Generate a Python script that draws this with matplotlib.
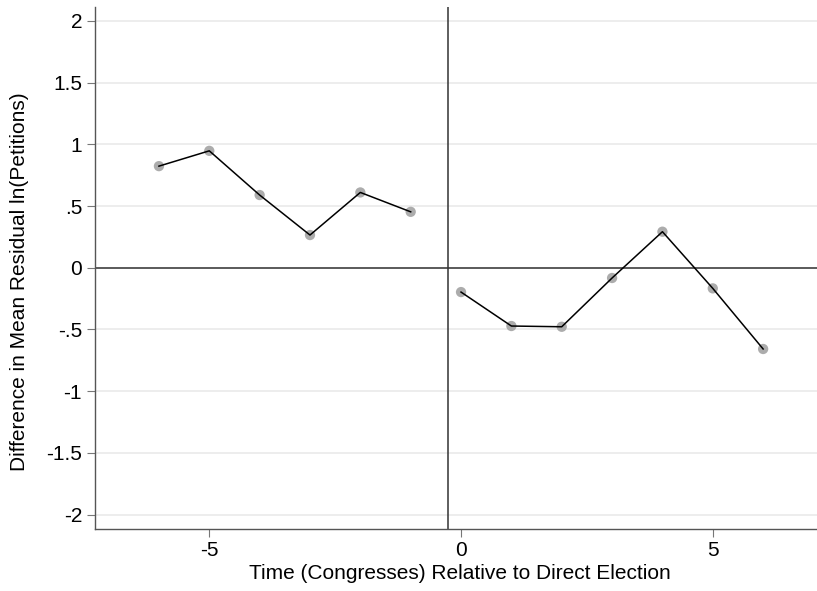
import numpy as np
import matplotlib
matplotlib.use("Agg")
import matplotlib.pyplot as plt
from matplotlib.ticker import FixedLocator

# data
t_pre = [-6, -5, -4, -3, -2, -1]
diff_pre = [0.823, 0.947, 0.589, 0.265, 0.610, 0.453]
t_post = [0, 1, 2, 3, 4, 5, 6]
diff_post = [-0.197, -0.472, -0.478, -0.083, 0.292, -0.167, -0.658]

yticks = [-2, -1.5, -1, -0.5, 0, 0.5, 1, 1.5, 2]
ytick_labels = ["-2", "-1.5", "-1", "-.5", "0", ".5", "1", "1.5", "2"]
xticks = [-5, 0, 5]
cutoff = -0.25

plt.rcParams['font.family'] = ['Liberation Sans', 'DejaVu Sans']

fig = plt.figure(figsize=(8.17, 5.91), dpi=100)
W, H = 817, 591
ax = fig.add_axes([95 / W, (H - 528.5) / H, (W - 95) / W, (528.5 - 7) / H])

for y in yticks:
    ax.axhline(y, color="#e8e8e8", lw=1.1, zorder=0)
ax.axhline(0, color="#333333", lw=1.1, zorder=1)
ax.axvline(cutoff, color="#333333", lw=1.1, zorder=1)

for xs, ys in [(t_pre, diff_pre), (t_post, diff_post)]:
    ax.plot(xs, ys, color="black", lw=1.1, zorder=3)
    ax.scatter(xs, ys, s=55, color="#acacac", edgecolors="none", zorder=2)

ax.set_xlim(-7.27, 7.07)
ax.set_ylim(-2.112, 2.112)
ax.yaxis.set_major_locator(FixedLocator(yticks))
ax.set_yticklabels(ytick_labels)
ax.set_xticks(xticks)
ax.set_xticklabels([str(v) for v in xticks])

for side in ["top", "right"]:
    ax.spines[side].set_visible(False)
for side in ["left", "bottom"]:
    ax.spines[side].set_color("#555555")
    ax.spines[side].set_linewidth(1.0)

fs = 15
ax.tick_params(axis="both", length=5.8, width=0.8, color="#777777",
               labelsize=fs, pad=3.5)
ax.set_xlabel("Time (Congresses) Relative to Direct Election", fontsize=fs)
ax.set_ylabel("Difference in Mean Residual ln(Petitions)", fontsize=fs)
ax.xaxis.set_label_coords(0.506, -0.068)
ax.yaxis.set_label_coords(-0.092, 0.4736)

fig.savefig("out.png", dpi=100)
